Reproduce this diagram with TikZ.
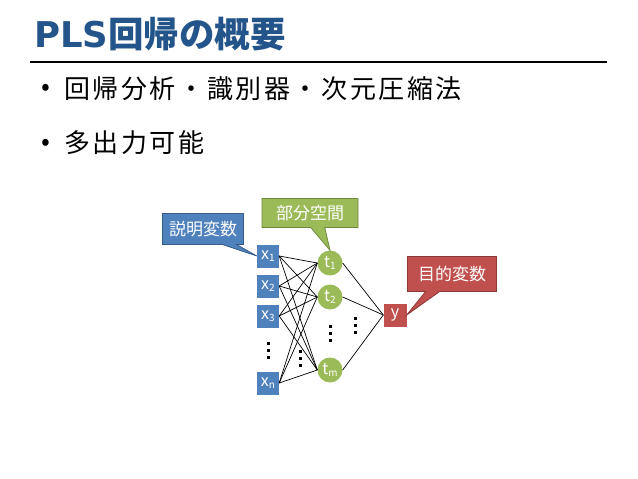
\documentclass[tikz,border=0pt]{standalone}
\usepackage{fontspec}
\setmainfont{Noto Sans CJK JP}
\newfontfamily\latinbold{DejaVu Sans}
\usetikzlibrary{shapes.callouts}
\definecolor{ttl}{HTML}{23548A}
\definecolor{bfill}{HTML}{4F81BD}
\definecolor{bline}{HTML}{385D8A}
\definecolor{gfill}{HTML}{9BBB59}
\definecolor{gline}{HTML}{71893F}
\definecolor{rfill}{HTML}{C0504D}
\definecolor{rline}{HTML}{8C3836}
\tikzset{
  xbox/.style={fill=bfill, text=white, minimum width=22pt, minimum height=23pt, inner sep=0pt, font=\fontsize{16}{16}\selectfont},
  tcirc/.style={circle, fill=gfill, text=white, minimum size=25pt, inner sep=0pt, font=\fontsize{16}{16}\selectfont},
  ybox/.style={fill=rfill, text=white, minimum width=23pt, minimum height=23pt, inner sep=0pt, font=\fontsize{16}{16}\selectfont},
  call/.style={rectangle callout, text=white, inner sep=0pt, line width=0.8pt, callout pointer width=14pt, font=\fontsize{17}{17}\selectfont},
  link/.style={draw=black, line width=0.7pt},
  bullettext/.style={anchor=west, inner sep=0pt, font=\fontsize{26}{26}\selectfont\addfontfeature{LetterSpace=10}},
  vd/.pic={\foreach \k in {0,1,2} \fill (-1.5,{\k*7-8.5}) rectangle ++(3,3);},
}
\newcommand\subs[2]{#1\raisebox{-1.5pt}{\fontsize{10}{10}\selectfont #2}}
\begin{document}
\begin{tikzpicture}[x=1pt,y=-1pt]
\useasboundingbox[fill=white] (0,0) rectangle (638,479);
\node[anchor=west, text=ttl, font=\fontsize{35.5}{35.5}\selectfont\bfseries, inner sep=0pt] (title) at (34,34) {{\latinbold\bfseries PLS}回帰の概要};
\draw[line width=1.6pt] (30,62) coordinate (l1) -- (607,62) coordinate (l2);
\node[anchor=center, inner sep=0pt, font=\fontsize{26}{26}\selectfont] (d1) at (46,90) {•};
\node[bullettext] (b1) at (64,89) {回帰分析・識別器・次元圧縮法};
\node[anchor=center, inner sep=0pt, font=\fontsize{26}{26}\selectfont] (d2) at (46,145) {•};
\node[bullettext] (b2) at (64,143) {多出力可能};

\node[xbox] (x1) at (268,256) {\subs{x}{1}};
\node[xbox] (x2) at (268,286) {\subs{x}{2}};
\node[xbox] (x3) at (268,316) {\subs{x}{3}};
\node[xbox] (xn) at (268,383) {\subs{x}{n}};
\node[tcirc] (t1) at (330,263) {\subs{t}{1}};
\node[tcirc] (t2) at (330,297) {\subs{t}{2}};
\node[tcirc] (tm) at (330,370) {\subs{t}{m}};
\node[ybox] (y) at (395,315) {y};

\foreach \a in {x1,x2,x3,xn} \foreach \b in {t1,t2,tm} \draw[link] (\a.east) -- (\b.west);
\foreach \b in {t1,t2,tm} \draw[link] (\b.east) -- (y.west);

\pic at (268,350) {vd};
\pic at (300,358) {vd};
\pic at (330,333) {vd};
\pic at (355,325) {vd};

\node[call, fill=bfill, draw=bline, minimum width=81pt, minimum height=31pt, callout absolute pointer={(x1.west)}] (c1) at (203,229) {説明変数};
\node[call, fill=gfill, draw=gline, minimum width=96pt, minimum height=29pt, callout absolute pointer={(t1.north)}] (c2) at (310,213) {部分空間};
\node[call, fill=rfill, draw=rline, minimum width=89pt, minimum height=35pt, callout absolute pointer={(y.east)}] (c3) at (452,274) {目的変数};
\end{tikzpicture}
\end{document}
